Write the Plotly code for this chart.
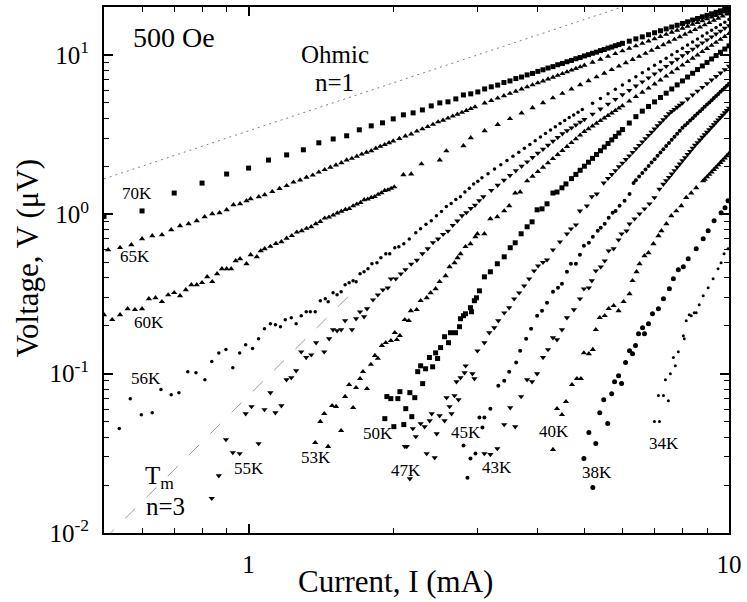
import plotly.graph_objects as go

# ---------------- data: current I (mA), voltage V (uV) ----------------
I_70K = [0.5,0.6,0.7,0.8,0.9,1.0,1.1,1.2,1.3,1.4,1.5,1.6,1.7,1.8,1.9,2.0,2.1,2.2,2.3,2.4,2.5,2.6,2.7,2.8,2.9,3.0,3.1,
         3.2,3.3,3.4,3.5,3.6,3.7,3.8,3.9,4.0,4.1,4.2,4.3,4.4,4.5,4.6,4.7,4.8,4.9,5.0,5.1,5.2,5.3,5.4,5.5,5.6,5.7,5.8,5.9,6.0,
         6.2,6.4,6.6,6.8,7.0,7.2,7.4,7.6,7.8,8.0,8.2,8.4,8.6,8.8,9.0,9.2,9.4,9.6,9.8,10.0]
V_70K = [0.97,1.05,1.36,1.57,1.79,1.95,2.19,2.36,2.54,2.81,2.97,3.11,3.39,3.59,3.75,3.97,4.21,4.33,4.52,4.79,5.00,5.08,5.30,5.61,5.70,5.86,6.12,
         6.31,6.47,6.72,6.87,7.11,7.27,7.50,7.66,7.89,8.07,8.28,8.45,8.68,8.85,9.07,9.24,9.47,9.63,9.86,10.04,10.25,10.42,10.65,10.82,11.04,11.21,11.43,11.61,11.83,
         12.20,12.62,12.99,13.40,13.78,14.19,14.57,14.98,15.36,15.77,16.14,16.56,16.93,17.35,17.72,18.13,18.51,18.92,19.30,19.70]

I_65K = [0.51,0.54,0.57,0.60,0.63,0.66,0.69,0.72,0.75,0.78,0.81,0.84,0.87,0.90,0.93,0.96,0.99,1.01,1.05,1.08,
         1.12,1.16,1.20,1.24,1.28,1.32,1.36,1.40,1.44,1.48,1.52,1.56,1.60,1.64,1.68,1.72,1.76,1.80,1.84,1.88,1.92,1.96,2.00,
         2.06,2.12,2.18,2.24,2.30,2.36,2.42,2.48,2.54,2.60,2.66,2.72,2.78,2.84,2.90,2.96,
         3.1,3.2,3.3,3.4,3.5,3.6,3.7,3.8,3.9,4.0,4.1,4.2,4.3,4.4,4.5,4.6,4.7,4.8,4.9,5.0,
         5.2,5.4,5.6,5.8,6.0,6.2,6.4,6.6,6.8,7.0,7.2,7.4,7.6,7.8,8.0,8.2,8.4,8.6,8.8,9.0,9.2,9.4,9.6,9.8,10.0]
V_65K = [0.599,0.617,0.644,0.702,0.733,0.744,0.800,0.847,0.872,0.910,0.965,1.007,1.022,1.067,1.147,1.164,1.215,1.251,1.287,1.325,
         1.387,1.450,1.513,1.590,1.641,1.707,1.760,1.837,1.904,1.971,2.038,2.106,2.190,2.243,2.312,2.382,2.451,2.505,2.593,2.665,2.736,2.808,2.880,
         2.990,3.099,3.190,3.322,3.434,3.548,3.662,3.800,3.892,4.009,4.126,4.244,4.361,4.480,4.600,4.720,
         4.991,5.173,5.359,5.545,5.733,5.919,6.106,6.295,6.485,6.674,6.864,7.053,7.247,7.440,7.631,7.826,8.019,8.213,8.408,8.606,
         9.000,9.396,9.793,10.19,10.60,11.00,11.40,11.81,12.22,12.63,13.04,13.46,13.87,14.29,14.71,15.12,15.55,15.97,16.39,16.82,17.25,17.67,18.10,18.54,18.97]

I_60K = [0.50,0.52,0.54,0.56,0.58,0.60,0.62,0.64,0.66,0.68,0.70,0.72,0.74,0.76,0.78,0.80,0.82,0.84,0.86,0.88,0.90,0.92,0.94,0.96,0.99,1.01,1.04,1.06,1.08,
         1.11,1.14,1.17,1.20,1.23,1.26,1.29,1.32,1.35,1.38,1.41,1.44,1.47,1.50,1.53,1.56,1.59,1.62,1.65,1.68,1.71,1.74,1.77,1.80,1.83,1.86,1.89,1.92,1.95,1.98,2.01,
         2.10,2.18,2.29,2.50,2.58,2.80,2.90,3.10,
         3.3,3.5,3.7,3.9,4.1,4.3,4.5,4.7,4.9,5.1,5.3,5.5,5.7,5.9,6.1,6.3,6.5,6.7,6.9,7.1,7.3,7.5,7.7,7.9,8.1,8.3,8.5,8.7,8.9,9.1,9.3,9.5,9.7,9.9,10.0]
V_60K = [0.234,0.218,0.234,0.255,0.252,0.255,0.295,0.299,0.283,0.312,0.322,0.308,0.336,0.361,0.361,0.372,0.405,0.378,0.423,0.455,0.455,0.455,0.511,0.526,0.489,0.557,0.541,0.590,0.607,
         0.629,0.655,0.672,0.707,0.734,0.772,0.788,0.816,0.835,0.872,0.901,0.945,0.959,0.988,1.018,1.044,1.072,1.085,1.129,1.158,1.186,1.232,1.245,1.274,1.290,1.333,1.363,1.410,1.423,1.454,1.485,
         1.77,1.79,2.07,2.19,2.50,2.69,3.02,3.34,
         3.658,3.983,4.317,4.661,5.012,5.370,5.736,6.111,6.492,6.880,7.275,7.678,8.086,8.501,8.922,9.350,9.784,10.23,10.67,11.12,11.58,12.05,12.51,12.99,13.47,13.95,14.44,14.94,15.44,15.95,16.46,16.98,17.50,18.03,18.29]

I_56K = [0.538,0.567,0.598,0.630,0.657,0.690,0.716,0.747,0.777,0.811,0.838,0.867,0.897,0.927,0.958,0.986,1.019,1.049,1.079,1.110,
         1.137,1.165,1.192,1.227,1.256,1.287,1.318,1.344,1.376,1.410,1.444,1.464,1.499,1.528,1.558,1.588,1.619,1.650,1.674,1.706,
         1.739,1.772,1.806,1.850,1.885,1.930,1.967,2.015,2.055,2.104,2.16,2.228,
         2.28,2.34,2.40,2.46,2.52,2.58,2.64,2.70,2.76,2.82,2.88,2.94,3.00,3.06,
         3.15,3.25,3.35,3.45,3.55,3.65,3.75,3.85,3.95,4.05,4.15,4.25,4.35,4.45,4.55,4.65,4.75,4.85,4.95,
         5.2,5.4,5.6,5.8,6.0,6.2,6.4,6.6,6.8,7.0,7.2,7.4,7.6,7.8,8.0,8.2,8.4,8.6,8.8,9.0,9.2,9.4,9.6,9.8,10.0]
V_56K = [0.0452,0.0697,0.0553,0.0569,0.0794,0.0738,0.0760,0.1029,0.1014,0.0917,0.1193,0.1350,0.1416,0.1088,0.1350,0.1520,0.1437,0.1657,0.1915,0.2059,
         0.2030,0.1971,0.2181,0.2244,0.2059,0.231,0.2445,0.2445,0.2445,0.287,0.2950,0.2829,0.3216,0.3125,0.3263,0.3616,0.3721,0.383,0.3775,0.4233,
         0.4357,0.4549,0.4894,0.4965,0.5334,0.5650,0.5650,0.617,0.626,0.653,0.70,0.766,
         0.811,0.866,0.910,0.981,1.042,1.120,1.171,1.238,1.290,1.380,1.455,1.550,1.612,1.693,
         1.799,1.922,2.048,2.178,2.313,2.453,2.595,2.744,2.894,3.051,3.210,3.376,3.546,3.719,3.885,4.045,4.206,4.370,4.539,
         4.973,5.333,5.704,6.085,6.479,6.884,7.302,7.727,8.166,8.616,9.078,9.550,10.03,10.53,11.03,11.55,12.08,12.61,13.16,13.72,14.29,14.87,15.46,16.06,16.67]

I_55K = [0.838,0.867,0.897,0.927,0.958,0.986,1.014,1.049,1.079,1.110,1.137,1.170,1.199,1.227,1.256,1.287,1.318,1.350,1.382,1.437,
         1.471,1.499,1.528,1.558,1.588,1.641,1.674,1.706,1.739,1.764,1.815,1.858,1.903,1.949,1.978,2.025,2.074,
         2.12,2.18,2.24,2.30,2.36,2.42,2.48,2.54,2.60,2.66,2.72,2.78,2.84,2.90,2.96,3.02,3.08,
         3.2,3.3,3.4,3.5,3.6,3.7,3.8,3.9,4.0,4.1,4.2,4.3,4.4,4.5,4.6,4.7,4.8,4.9,5.0,
         5.2,5.4,5.6,5.8,6.0,6.2,6.4,6.6,6.8,7.0,7.2,7.4,7.6,7.8,8.0,8.2,8.4,8.6,8.8,9.0,9.2,9.4,9.6,9.8,10.0]
V_55K = [0.0165,0.0229,0.0386,0.0320,0.0315,0.0561,0.0621,0.0364,0.0595,0.0760,0.0569,0.0630,0.0917,0.0943,0.1044,0.1370,0.1263,0.1312,0.1564,0.1370,
         0.1657,0.1888,0.186,0.1888,0.215,0.1888,0.2212,0.2445,0.2277,0.2557,0.2908,0.3125,0.3361,0.3459,0.3936,0.3936,0.4233,
         0.4497,0.4869,0.515,0.5661,0.6089,0.665,0.7005,0.7487,0.785,0.8533,0.9089,0.980,1.026,1.089,1.140,1.220,1.291,
         1.414,1.523,1.636,1.754,1.877,2.004,2.137,2.275,2.417,2.564,2.716,2.875,3.039,3.206,3.348,3.491,3.638,3.789,3.942,
         4.256,4.581,4.919,5.268,5.630,6.003,6.388,6.783,7.191,7.612,8.041,8.484,8.939,9.408,9.888,10.38,10.88,11.39,11.92,12.45,13.00,13.56,14.13,14.71,15.30]

I_53K = [1.376,1.410,1.437,1.464,1.492,1.521,1.558,1.588,1.619,1.650,1.674,1.706,1.730,1.764,1.797,1.832,1.858,1.894,1.930,1.978,
         2.015,2.035,2.065,2.114,2.155,2.176,2.238,2.281,2.348,2.393,2.451,2.498,2.571,2.620,2.683,2.722,2.761,2.828,2.896,2.965,
         2.994,3.096,3.186,3.294,3.405,3.487,3.589,3.675,3.800,
         3.9,4.0,4.1,4.2,4.3,4.4,4.5,4.6,4.7,4.8,4.9,5.0,5.1,5.2,5.3,5.4,5.5,5.6,5.7,5.8,5.9,6.0,
         6.2,6.4,6.6,6.8,7.0,7.2,7.4,7.6,7.8,8.0,8.2,8.4,8.6,8.8,9.0,9.2,9.4,9.6,9.8,10.0]
V_53K = [0.0369,0.0500,0.0561,0.0349,0.0630,0.0621,0.0439,0.0718,0.0853,0.0612,0.0817,0.0930,0.1029,0.0805,0.1142,0.130,0.1245,0.150,0.1564,0.161,
         0.1807,0.1633,0.173,0.2181,0.215,0.248,0.2521,0.287,0.2992,0.3216,0.3409,0.3775,0.411,0.4682,0.4965,0.5334,0.5650,0.626,0.653,0.7225,
         0.7547,0.7547,0.9376,0.965,1.05,1.13,1.360,1.380,1.62,
         1.733,1.851,1.974,2.101,2.234,2.372,2.514,2.663,2.815,2.972,3.137,3.306,3.442,3.581,3.724,3.869,4.017,4.166,4.319,4.474,4.634,4.796,
         5.127,5.470,5.824,6.189,6.566,6.954,7.354,7.764,8.189,8.623,9.071,9.528,9.995,10.48,10.96,11.47,11.98,12.51,13.04,13.60]

I_50K = [1.921,1.940,1.977,2.006,2.045,2.065,2.104,2.124,2.166,2.186,2.218,2.249,2.281,2.303,2.336,2.379,2.416,2.451,2.474,2.510,
         2.558,2.607,2.632,2.696,2.748,2.761,2.801,2.828,2.896,2.910,2.951,2.980,3.023,3.096,3.186,3.294,3.405,3.504,3.589,3.692,
         3.800,3.891,3.986,4.081,4.180,4.301,4.385,4.490,4.577,
         4.7,4.8,4.9,5.0,5.1,5.2,5.3,5.4,5.5,5.6,5.7,5.8,5.9,6.0,
         6.2,6.4,6.6,6.8,7.0,7.2,7.4,7.6,7.8,8.0,8.2,8.4,8.6,8.8,9.0,9.2,9.4,9.6,9.8,10.0]
V_50K = [0.0522,0.0718,0.0697,0.0465,0.0697,0.0771,0.0479,0.0603,0.0760,0.0537,0.0707,0.1029,0.112,0.0866,0.1073,0.1263,0.1104,0.1350,0.1245,0.1457,
         0.1705,0.1564,0.1807,0.1807,0.1971,0.2212,0.231,0.2375,0.2594,0.2445,0.287,0.2992,0.331,0.4051,0.4357,0.4894,0.541,0.617,0.6626,0.7547,
         0.835,0.897,1.067,1.082,1.164,1.360,1.380,1.467,1.551,
         1.675,1.780,1.890,2.004,2.123,2.245,2.374,2.506,2.643,2.784,2.931,3.082,3.239,3.402,
         3.740,4.101,4.441,4.752,5.076,5.410,5.756,6.116,6.489,6.872,7.268,7.679,8.098,8.531,8.977,9.438,9.908,10.40,10.89,11.40]

I_47K = [2.114,2.134,2.166,2.197,2.228,2.281,2.325,2.348,2.382,2.405,2.440,2.463,2.498,2.558,2.583,2.620,2.645,2.683,2.709,2.735,
         2.761,2.815,2.830,2.924,2.952,2.994,3.096,3.170,3.246,3.310,3.405,3.487,3.571,3.658,3.746,3.837,3.929,4.005,4.10,4.180,
         4.301,4.448,4.599,4.688,4.801,4.894,5.059,5.181,5.306,5.485,
         5.6,5.7,5.8,5.9,6.0,6.1,6.2,6.3,6.4,6.5,6.6,6.7,6.8,6.9,7.0,
         7.1,7.2,7.3,7.4,7.5,7.6,7.7,7.8,7.9,8.0,8.2,8.4,8.6,8.8,9.0,9.2,9.4,9.6,9.8,10.0]
V_47K = [0.0349,0.0349,0.0219,0.0452,0.0403,0.0486,0.0465,0.0315,0.0507,0.0561,0.0297,0.0420,0.0545,0.0507,0.0707,0.0621,0.0561,0.0728,0.0891,0.0687,
         0.0943,0.1014,0.112,0.1000,0.0930,0.139,0.1564,0.1807,0.1943,0.215,0.2409,0.2594,0.2950,0.3216,0.356,0.3936,0.442,0.475,0.50,0.518,
         0.599,0.672,0.755,0.811,0.859,1.05,1.13,1.291,1.341,1.574,
         1.682,1.780,1.882,1.989,2.098,2.211,2.330,2.451,2.579,2.710,2.844,2.986,3.130,3.279,3.435,
         3.596,3.758,3.928,4.102,4.284,4.420,4.561,4.703,4.847,4.995,5.297,5.610,5.933,6.267,6.609,6.966,7.331,7.710,8.095,8.500]

I_45K = [2.801,2.855,2.896,2.966,3.023,3.067,3.096,3.186,3.310,3.405,3.487,3.606,3.675,3.782,3.873,3.986,4.081,4.180,4.301,4.406,
         4.490,4.599,4.688,4.801,4.894,4.988,5.108,5.206,5.331,5.408,5.512,5.618,5.726,5.806,5.918,6.062,6.208,6.329,
         6.4,6.5,6.6,6.7,6.8,6.9,7.0,7.1,7.2,7.3,7.4,7.5,7.6,7.7,7.8,7.9,8.0,
         8.1,8.2,8.3,8.4,8.5,8.6,8.7,8.8,8.9,9.0,9.1,9.2,9.3,9.4,9.5,9.6,9.7,9.8,9.9,10.0]
V_45K = [0.0354,0.0222,0.0293,0.0315,0.0530,0.0459,0.0530,0.0603,0.0841,0.0904,0.1029,0.1176,0.139,0.1657,0.1915,0.231,0.248,0.2788,0.3263,0.3459,
         0.3668,0.4357,0.4894,0.4894,0.557,0.635,0.6626,0.7225,0.788,0.823,0.8715,0.951,1.022,1.05,1.13,1.215,1.341,1.574,
         1.636,1.724,1.815,1.911,2.010,2.111,2.218,2.328,2.440,2.557,2.679,2.804,2.933,3.067,3.204,3.345,3.492,
         3.618,3.746,3.878,4.014,4.150,4.291,4.435,4.582,4.732,4.884,5.040,5.201,5.364,5.528,5.697,5.872,6.047,6.224,6.407,6.594]

I_43K = [3.096,3.186,3.294,3.405,3.504,3.589,3.692,3.800,3.891,3.986,4.100,4.200,4.301,4.385,4.490,4.599,4.755,4.894,4.988,5.108,
         5.181,5.281,5.408,5.512,5.618,5.753,5.890,5.975,6.120,6.208,6.359,6.513,6.669,6.830,6.995,7.164,
         7.3,7.4,7.5,7.6,7.7,7.8,7.9,8.0,8.1,8.2,8.3,8.4,8.5,8.6,8.7,8.8,8.9,9.0,9.1,9.2,9.3,9.4,9.5,9.6,9.7,9.8,9.9,10.0]
V_43K = [0.0315,0.0311,0.0339,0.0479,0.0612,0.0465,0.0718,0.0917,0.0891,0.1000,0.1263,0.1416,0.1681,0.1633,0.1888,0.2244,0.2521,0.2950,0.3409,0.3459,
         0.383,0.442,0.4682,0.511,0.590,0.608,0.692,0.755,0.788,0.8715,0.9376,1.007,1.082,1.164,1.273,1.441,
         1.545,1.624,1.708,1.793,1.883,1.975,2.069,2.169,2.271,2.376,2.486,2.598,2.714,2.822,2.931,3.045,3.160,3.278,3.399,3.525,3.654,3.783,3.917,4.057,4.198,4.341,4.488,4.641]

I_40K = [4.301,4.385,4.490,4.577,4.711,4.824,4.917,4.988,5.108,5.206,5.281,5.382,5.512,5.618,5.753,5.890,6.033,6.208,6.298,6.420,
         6.513,6.669,6.798,6.962,7.130,7.233,7.407,7.585,7.769,7.956,8.147,8.344,8.545,8.836,
         8.9,9.0,9.1,9.2,9.3,9.4,9.5,9.6,9.7,9.8,9.9,10.0]
V_40K = [0.0334,0.0603,0.0553,0.0667,0.0853,0.0930,0.0930,0.1350,0.1331,0.1416,0.1888,0.2244,0.231,0.2557,0.267,0.248,0.2829,0.317,0.383,0.4357,
         0.4894,0.549,0.573,0.653,0.733,0.788,0.8715,0.979,1.05,1.13,1.273,1.360,1.467,1.62,
         1.657,1.717,1.779,1.843,1.908,1.973,2.041,2.111,2.183,2.255,2.329,2.406]

I_38K = [4.988,5.108,5.206,5.281,5.382,5.486,5.592,5.699,5.778,5.890,5.975,6.091,6.208,6.298,6.390,6.482,6.607,6.669,6.798,6.929,
         7.130,7.304,7.514,7.659,7.843,8.033,8.225,8.545,8.836,9.049,9.310,9.628,9.812,9.955]
V_38K = [0.0293,0.0427,0.0193,0.0364,0.0569,0.0687,0.0486,0.0749,0.0891,0.0971,0.0866,0.1176,0.139,0.1331,0.150,0.1781,0.1943,0.1781,0.2059,0.2375,
         0.2557,0.2950,0.3409,0.3936,0.4484,0.4682,0.5258,0.608,0.702,0.788,0.910,1.022,1.098,1.215]

I_34K = [6.995,7.130,7.164,7.304,7.372,7.478,7.550,7.659,7.732,7.843,8.033,8.071,8.147,8.264,8.344,8.464,8.545,8.669,8.836,9.049,
         9.266,9.489,9.627,9.766,9.955]
V_34K = [0.0500,0.0728,0.0500,0.0728,0.0917,0.0677,0.1000,0.1263,0.112,0.1370,0.173,0.1657,0.215,0.2341,0.231,0.2409,0.2409,0.2709,0.308,0.3459,
         0.3936,0.4549,0.4965,0.565,0.608]

# guide lines
OHMIC_I = [0.5, 10.0]
OHMIC_V = [1.67, 33.4]      # n = 1
TM_I = [0.5, 1.65]
TM_V = [0.0091, 0.327]      # n = 3

X_TICKS = [1, 10]
X_TICK_TEXT = ["1", "10"]
X_MINOR = [0.6, 0.7, 0.8, 0.9, 2, 3, 4, 5, 6, 7, 8, 9]
Y_TICKS = [0.01, 0.1, 1, 10]
Y_TICK_TEXT = ["10<sup>-2</sup>", "10<sup>-1</sup>", "10<sup>0</sup>", "10<sup>1</sup>"]
Y_MINOR = [0.02, 0.03, 0.04, 0.05, 0.06, 0.07, 0.08, 0.09,
           0.2, 0.3, 0.4, 0.5, 0.6, 0.7, 0.8, 0.9,
           2, 3, 4, 5, 6, 7, 8, 9]

# ---------------- styling ----------------
FONT = "Liberation Serif"
series = [
    ("70K", I_70K, V_70K, "square", 5),
    ("65K", I_65K, V_65K, "triangle-up", 5.5),
    ("60K", I_60K, V_60K, "triangle-up", 5.5),
    ("56K", I_56K, V_56K, "circle", 3.5),
    ("55K", I_55K, V_55K, "triangle-down", 5.5),
    ("53K", I_53K, V_53K, "triangle-up", 5.5),
    ("50K", I_50K, V_50K, "square", 5),
    ("47K", I_47K, V_47K, "triangle-down", 5.5),
    ("45K", I_45K, V_45K, "circle", 4),
    ("43K", I_43K, V_43K, "triangle-down", 5.5),
    ("40K", I_40K, V_40K, "triangle-up", 5.5),
    ("38K", I_38K, V_38K, "circle", 5),
    ("34K", I_34K, V_34K, "circle", 3),
]

fig = go.Figure()
fig.add_trace(go.Scatter(x=OHMIC_I, y=OHMIC_V, mode="lines",
                         line=dict(color="#808080", width=1, dash="2px,4px"), hoverinfo="skip"))
fig.add_trace(go.Scatter(x=TM_I, y=TM_V, mode="lines",
                         line=dict(color="#9a9a9a", width=1, dash="14px,16px"), hoverinfo="skip"))
for name, xs, ys, sym, sz in series:
    assert len(xs) == len(ys), name
    fig.add_trace(go.Scatter(x=xs, y=ys, mode="markers", name=name,
                             marker=dict(symbol=sym, size=sz, color="black", line=dict(width=0))))

# label positions (log10 I, log10 V)
labels = [
    ("70K", -0.232, 0.1285), ("65K", -0.236, -0.2665), ("60K", -0.207, -0.680),
    ("56K", -0.213, -1.031), ("55K", 0.0, -1.596), ("53K", 0.141, -1.527),
    ("50K", 0.269, -1.376), ("47K", 0.327, -1.608), ("45K", 0.453, -1.370),
    ("43K", 0.518, -1.589), ("40K", 0.636, -1.364), ("38K", 0.725, -1.621),
    ("34K", 0.865, -1.439),
]
ann = []
for t, lx, ly in labels:
    ann.append(dict(x=lx, y=ly, xref="x", yref="y", text=t, showarrow=False,
                    font=dict(family=FONT, size=17, color="black"), xanchor="center", yanchor="middle"))
ann += [
    dict(x=-0.155, y=1.107, xref="x", yref="y", text="500 Oe", showarrow=False,
         font=dict(family=FONT, size=28, color="black")),
    dict(x=0.180, y=1.006, xref="x", yref="y", text="Ohmic", showarrow=False,
         font=dict(family=FONT, size=25, color="black")),
    dict(x=0.178, y=0.825, xref="x", yref="y", text="n=1", showarrow=False,
         font=dict(family=FONT, size=25, color="black")),
    dict(x=-0.186, y=-1.650, xref="x", yref="y", text="T<sub>m</sub>", showarrow=False,
         font=dict(family=FONT, size=25, color="black")),
    dict(x=-0.172, y=-1.834, xref="x", yref="y", text="n=3", showarrow=False,
         font=dict(family=FONT, size=25, color="black")),
    dict(x=0.466, y=-0.093, xref="paper", yref="paper", text="Current, I (mA)", showarrow=False,
         font=dict(family=FONT, size=31, color="black"), xanchor="center", yanchor="middle"),
    dict(x=-0.121, y=0.523, xref="paper", yref="paper", text="Voltage, V (\u03bcV)", showarrow=False,
         textangle=-90, font=dict(family=FONT, size=31, color="black"), xanchor="center", yanchor="middle"),
]

axis_common = dict(
    type="log", showline=True, linecolor="black", linewidth=2, mirror="ticks",
    ticks="inside", ticklen=9, tickwidth=1.5, tickcolor="black",
    showgrid=False, zeroline=False,
    tickfont=dict(family=FONT, size=25, color="black"),
)
fig.update_layout(
    width=747, height=602,
    margin=dict(l=104, r=14, t=5, b=69),
    paper_bgcolor="white", plot_bgcolor="white",
    showlegend=False,
    annotations=ann,
    font=dict(family=FONT),
    xaxis=dict(axis_common, range=[-0.30103, 1.0], tickmode="array", tickvals=X_TICKS, ticktext=X_TICK_TEXT,
               ticklabelstandoff=8,
               minor=dict(tickmode="array", tickvals=X_MINOR, ticks="inside", ticklen=5, tickwidth=1.2, tickcolor="black")),
    yaxis=dict(axis_common, range=[-2.0, 1.301], tickmode="array", tickvals=Y_TICKS, ticktext=Y_TICK_TEXT,
               ticklabelstandoff=8,
               minor=dict(tickmode="array", tickvals=Y_MINOR, ticks="inside", ticklen=5, tickwidth=1.2, tickcolor="black")),
)
fig.write_html("out.html", config={"displayModeBar": False},
               post_script="document.body.style.margin='0px';document.body.style.overflow='hidden';")
